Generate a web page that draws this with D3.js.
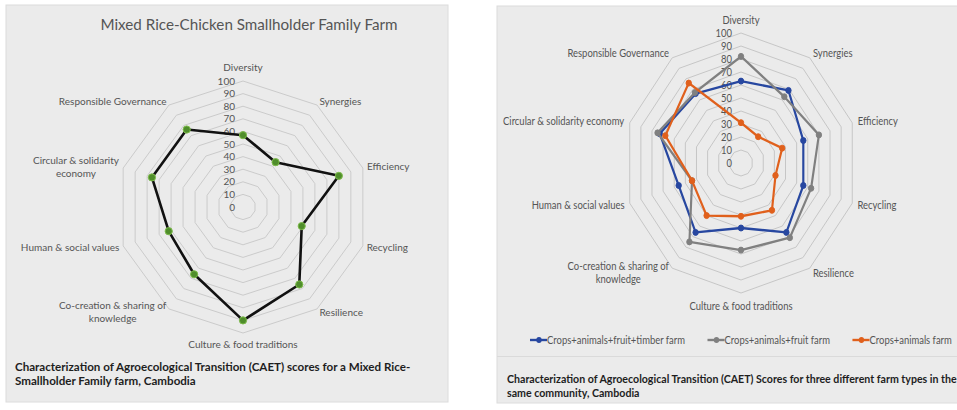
<!DOCTYPE html>
<html>
<head>
<meta charset="utf-8">
<script src="https://cdn.jsdelivr.net/npm/d3@7"></script>
<style>
  html, body { margin: 0; padding: 0; background: #ffffff; }
  svg { display: block; font-family: Lato, "Open Sans", sans-serif; }
</style>
</head>
<body>
<svg id="chart" width="957" height="410"></svg>
<script>
// CAET elements, clockwise from the top
const elementsNarrow = ["Diversity", "Synergies", "Efficiency", "Recycling", "Resilience",
  "Culture & food traditions", "Co-creation & sharing of\nknowledge", "Human & social values",
  "Circular & solidarity\neconomy", "Responsible Governance"];
const elementsWide = ["Diversity", "Synergies", "Efficiency", "Recycling", "Resilience",
  "Culture & food traditions", "Co-creation & sharing of\nknowledge", "Human & social values",
  "Circular & solidarity economy", "Responsible Governance"];
const scoreTicks = [0, 10, 20, 30, 40, 50, 60, 70, 80, 90, 100];

// Mixed rice-chicken smallholder farm
const riceChickenScores = [57, 44, 80, 49, 76, 90, 66, 62, 76, 76];

// Three farm types in the same community
const farmTypes = ["Crops+animals+fruit+timber farm", "Crops+animals+fruit farm", "Crops+animals farm"];
const timberFarmScores = [63, 69, 56, 56, 66, 50, 66, 56, 73, 66];
const fruitFarmScores = [82, 63, 70, 63, 71, 67, 75, 44, 75, 67];
const animalsFarmScores = [31, 25, 37, 31, 45, 41, 50, 44, 68, 76];
const farmColors = ["#2747a0", "#808080", "#e0601c"];

const leftTitle = "Mixed Rice-Chicken Smallholder Family Farm";
const leftCaption = ["Characterization of Agroecological Transition (CAET) scores for a Mixed Rice-",
  "Smallholder Family farm, Cambodia"];
const rightCaption = ["Characterization of Agroecological Transition (CAET) Scores for three different farm types in the",
  "same community, Cambodia"];

const svg = d3.select("#chart");
const textGrey = "#555555";
const panelFill = "#ebebeb";

// panels
svg.append("rect").attr("x", 6).attr("y", 5).attr("width", 442).attr("height", 397)
  .attr("fill", panelFill).attr("stroke", "#dcdcdc");
svg.append("rect").attr("x", 497).attr("y", 6).attr("width", 470).attr("height", 397)
  .attr("fill", panelFill).attr("stroke", "#dcdcdc");
svg.append("line").attr("x1", 497).attr("x2", 957).attr("y1", 356.5).attr("y2", 356.5)
  .attr("stroke", "#dadada");

function drawRadar(g, opts) {
  const R = opts.radius;
  const n = opts.labels.length;
  const r = d3.scaleLinear().domain([0, 100]).range([0, R]);
  const a = d3.scaleLinear().domain([0, n]).range([0, 2 * Math.PI]);
  const idx = d3.range(n);

  // rings
  g.append("g").selectAll("path")
    .data(scoreTicks.filter(t => t > 0))
    .join("path")
    .attr("d", t => d3.lineRadial().angle(i => a(i)).radius(() => r(t)).curve(d3.curveLinearClosed)(idx))
    .attr("fill", "none")
    .attr("stroke", opts.ringColor)
    .attr("stroke-width", 1);

  // score tick labels
  g.append("g").selectAll("text")
    .data(scoreTicks)
    .join("text")
    .attr("x", -opts.tickPad)
    .attr("y", t => -r(t))
    .attr("dy", "0.35em")
    .attr("text-anchor", "end")
    .attr("font-size", opts.tickSize)
    .attr("fill", textGrey)
    .text(t => t);

  // element labels
  const lineH = opts.lineHeight;
  opts.labels.forEach((label, i) => {
    const ang = a(i);
    const s = Math.sin(ang), c = Math.cos(ang);
    let px, py;
    if (Math.abs(s) < 0.1) {
      const pad = c > 0 ? opts.topPad : opts.bottomPad;
      px = 0; py = -(R + pad) * c;
    } else {
      px = (R + opts.sidePad) * s; py = -(R + opts.sidePad) * c;
    }
    const lines = label.split("\n");
    const t = g.append("text")
      .attr("text-anchor", "middle")
      .attr("font-size", opts.labelSize)
      .attr("fill", textGrey);
    lines.forEach((ln, k) => {
      t.append("tspan")
        .attr("x", 0)
        .attr("y", py - (lines.length - 1) * lineH / 2 + k * lineH)
        .attr("dy", "0.35em")
        .text(ln);
    });
    const w = t.node().getBBox().width;
    const shift = Math.abs(s) < 0.1 ? 0 : (s > 0 ? w / 2 : -w / 2);
    t.selectAll("tspan").attr("x", px + shift);
  });

  // series
  opts.series.forEach(ser => {
    const line = d3.lineRadial().angle((d, i) => a(i)).radius(d => r(d)).curve(d3.curveLinearClosed);
    g.append("path")
      .attr("d", line(ser.values))
      .attr("fill", "none")
      .attr("stroke", ser.stroke)
      .attr("stroke-width", ser.width)
      .attr("stroke-linejoin", "round");
    g.append("g").selectAll("circle")
      .data(ser.values)
      .join("circle")
      .attr("cx", (d, i) => r(d) * Math.sin(a(i)))
      .attr("cy", (d, i) => -r(d) * Math.cos(a(i)))
      .attr("r", ser.markerR)
      .attr("fill", ser.markerFill)
      .attr("stroke", ser.markerStroke)
      .attr("stroke-width", 1);
  });
}

// ---- left: single farm ----
svg.append("text")
  .attr("x", 249).attr("y", 25).attr("dy", "0.35em")
  .attr("text-anchor", "middle")
  .attr("font-size", 15.2)
  .attr("fill", textGrey)
  .text(leftTitle);

const leftG = svg.append("g").attr("transform", "translate(243,207)");
drawRadar(leftG, {
  radius: 126, labels: elementsNarrow, ringColor: "#cbcbcb",
  tickPad: 8, tickSize: 10, labelSize: 10, lineHeight: 13,
  sidePad: 4, topPad: 14, bottomPad: 11,
  series: [{ values: riceChickenScores, stroke: "#111111", width: 2.6, markerR: 3.6,
    markerFill: "#4f8d2b", markerStroke: "#7dbb4a" }]
});

const lc = svg.append("g").attr("font-size", 11.6).attr("font-weight", "bold").attr("fill", "#1e1e1e");
leftCaption.forEach((ln, k) => {
  lc.append("text").attr("x", 15).attr("y", 367 + k * 14).attr("dy", "0.35em").text(ln);
});

// ---- right: three farm types (horizontally compressed panel) ----
const sx = 0.9;
const rightG = svg.append("g").attr("transform", `translate(741,163) scale(${sx},1)`);
const seriesValues = [timberFarmScores, fruitFarmScores, animalsFarmScores];
drawRadar(rightG, {
  radius: 130, labels: elementsWide, ringColor: "#c4c4c4",
  tickPad: 10, tickSize: 10.5, labelSize: 10.5, lineHeight: 13,
  sidePad: 6, topPad: 13, bottomPad: 13,
  series: seriesValues.map((v, k) => ({ values: v, stroke: farmColors[k], width: 2.4, markerR: 3,
    markerFill: farmColors[k], markerStroke: farmColors[k] }))
});

// legend
const legend = svg.append("g").attr("transform", `translate(530,340) scale(${sx},1)`);
let lx = 0;
farmTypes.forEach((name, k) => {
  const item = legend.append("g").attr("transform", `translate(${lx},0)`);
  item.append("line").attr("x1", 0).attr("x2", 19).attr("y1", 0).attr("y2", 0)
    .attr("stroke", farmColors[k]).attr("stroke-width", 2.4);
  item.append("circle").attr("cx", 10).attr("cy", 0).attr("r", 3).attr("fill", farmColors[k]);
  const t = item.append("text").attr("x", 19).attr("dy", "0.35em")
    .attr("font-size", 10.5).attr("fill", textGrey).text(name);
  lx += 19 + t.node().getComputedTextLength() + 25;
});

const rc = svg.append("g").attr("transform", `translate(507,379) scale(${sx},1)`)
  .attr("font-size", 11.8).attr("font-weight", "bold").attr("fill", "#1e1e1e");
rightCaption.forEach((ln, k) => {
  rc.append("text").attr("x", 0).attr("y", k * 14).attr("dy", "0.35em").text(ln);
});
</script>
</body>
</html>
